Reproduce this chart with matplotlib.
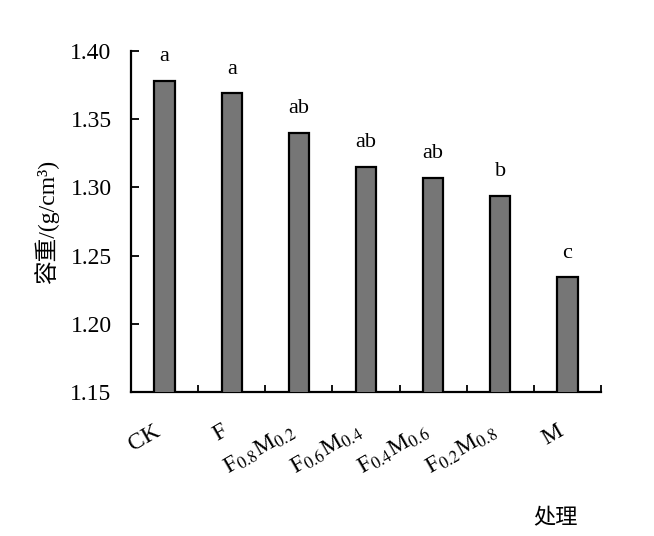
import matplotlib
matplotlib.use("Agg")
import matplotlib.pyplot as plt
import matplotlib.transforms as mtransforms
import numpy as np

# data
treatments = ["CK", "F", "F$_{0.8}$M$_{0.2}$", "F$_{0.6}$M$_{0.4}$",
              "F$_{0.4}$M$_{0.6}$", "F$_{0.2}$M$_{0.8}$", "M"]
bulk_density = [1.378, 1.369, 1.340, 1.315, 1.307, 1.294, 1.234]
letters = ["a", "a", "ab", "ab", "ab", "b", "c"]
y_ticks = [1.15, 1.20, 1.25, 1.30, 1.35, 1.40]

plt.rcParams['font.family'] = ['Liberation Serif', 'Noto Sans CJK SC']
plt.rcParams['mathtext.fontset'] = 'stix'

fig = plt.figure(figsize=(6.54, 5.36), dpi=100, facecolor='#ffffff')
ax = fig.add_axes([0.2003, 0.2687, 0.7187, 0.6363])

x = np.arange(len(treatments))
ax.bar(x, bulk_density, width=0.3, color='#767676', edgecolor='black',
       linewidth=1.6, zorder=3)

# significance letters above each bar
for xi, v, s in zip(x, bulk_density, letters):
    ax.annotate(s, (xi, v), xytext=(0, 14), textcoords='offset points',
                ha='center', va='baseline', fontsize=16)

ax.set_xlim(-0.5, len(treatments) - 0.5)
ax.set_ylim(1.15, 1.40)
ax.set_yticks(y_ticks)
ax.set_yticklabels(["%.2f" % t for t in y_ticks])

ax.set_xticks(x)
ax.set_xticklabels(treatments, rotation=30, ha='right',
                   rotation_mode='anchor')
ax.set_xticks(np.arange(0.5, len(treatments), 1.0), minor=True)
ax.tick_params(axis='x', which='major', length=0, pad=22, labelsize=17)
ax.tick_params(axis='x', which='minor', direction='in', length=5,
               width=1.3)
ax.tick_params(axis='y', direction='in', length=6, width=1.3,
               labelsize=17, pad=14)

# nudge the slanted labels a little to the left
shift = mtransforms.ScaledTranslation(-0.11, 0.02, fig.dpi_scale_trans)
for lab in ax.get_xticklabels():
    lab.set_transform(lab.get_transform() + shift)

for side in ['top', 'right']:
    ax.spines[side].set_visible(False)
for side in ['left', 'bottom']:
    ax.spines[side].set_linewidth(1.6)

ax.set_ylabel("容重/(g/cm³)", fontsize=17, labelpad=8)
fig.text(0.85, 0.012, "处理", fontsize=16, ha='center', va='bottom')

fig.savefig("out.png", dpi=100)
